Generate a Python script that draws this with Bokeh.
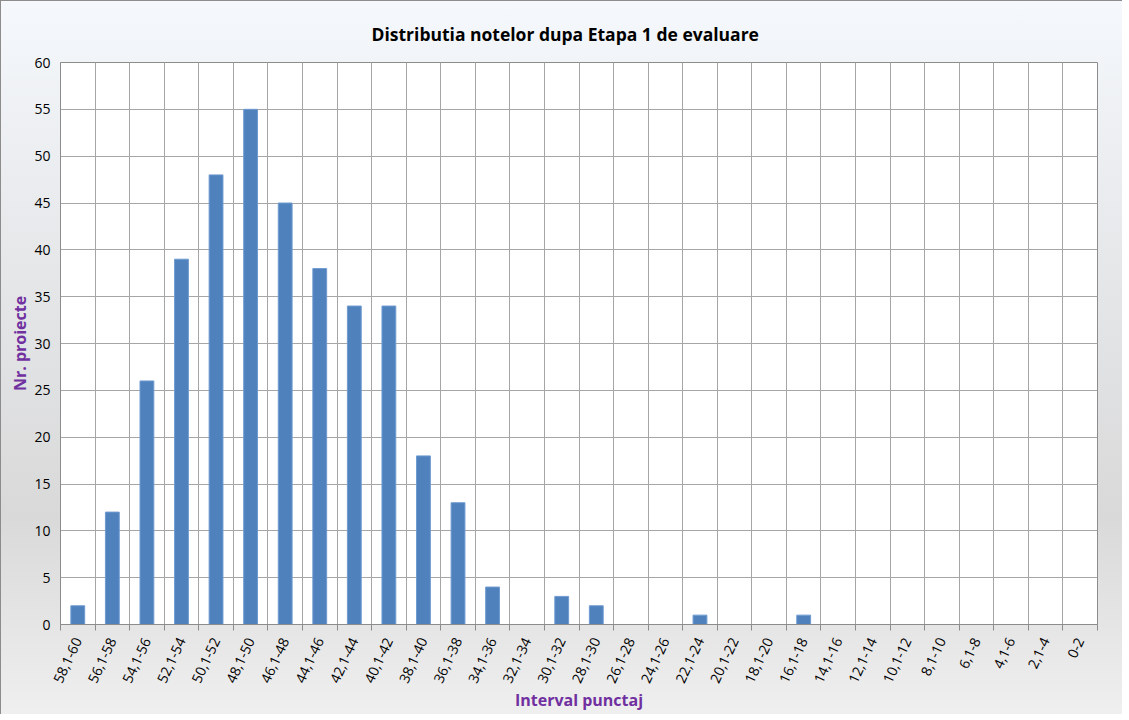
from bokeh.plotting import figure
from bokeh.models import ColumnDataSource, FixedTicker, Range1d
from bokeh.embed import file_html
from bokeh.resources import INLINE
import math

categories = ["58,1-60", "56,1-58", "54,1-56", "52,1-54", "50,1-52", "48,1-50",
              "46,1-48", "44,1-46", "42,1-44", "40,1-42", "38,1-40", "36,1-38",
              "34,1-36", "32,1-34", "30,1-32", "28,1-30", "26,1-28", "24,1-26",
              "22,1-24", "20,1-22", "18,1-20", "16,1-18", "14,1-16", "12,1-14",
              "10,1-12", "8,1-10", "6,1-8", "4,1-6", "2,1-4", "0-2"]
counts = [2, 12, 26, 39, 48, 55, 45, 38, 34, 34, 18, 13, 4, 0, 3, 2, 0, 0,
          1, 0, 0, 1, 0, 0, 0, 0, 0, 0, 0, 0]
y_ticks = list(range(0, 61, 5))

n = len(categories)
centers = [i + 0.5 for i in range(n)]
bounds = list(range(n + 1))

src = ColumnDataSource(dict(x=centers, top=counts, cat=categories))

FONT = "Open Sans"

p = figure(width=1121, height=712, frame_width=1037, frame_height=562,
           output_backend="svg", toolbar_location=None,
           x_range=Range1d(0, n), y_range=Range1d(0, 60),
           min_border_left=59, min_border_right=25, min_border_top=61,
           min_border_bottom=89,
           title="Distributia notelor dupa Etapa 1 de evaluare")

p.border_fill_alpha = 0
p.background_fill_color = "white"
p.styles = {"background": "linear-gradient(to bottom, #f5f8fc 0%, #e6e8ea 35%, #d9d9d9 72%, #efefef 100%)",
            "border-top": "1px solid #8c8c8c", "border-left": "1px solid #8c8c8c",
            "box-sizing": "border-box"}

p.title.align = "left"
p.title.offset = 311
p.title.text_font = FONT
p.title.text_font_size = "17.5px"
p.title.text_font_style = "bold"
p.title.text_color = "#000000"
p.title.standoff = 33

p.vbar(x="x", top="top", width=0.4, source=src, fill_color="#4f81bd",
       line_color="#6f9bd0", line_width=1)

# x axis
p.xaxis.ticker = FixedTicker(ticks=centers, minor_ticks=bounds)
p.xaxis.major_label_overrides = {c: lab for c, lab in zip(centers, categories)}
p.xaxis.major_label_orientation = math.radians(65)
p.xaxis.major_tick_line_color = None
p.xaxis.major_tick_out = 0
p.xaxis.minor_tick_line_color = "#8c8c8c"
p.xaxis.minor_tick_out = 6
p.xaxis.minor_tick_in = 0
p.xaxis.axis_line_color = "#8c8c8c"
p.xaxis.major_label_text_font = FONT
p.xaxis.major_label_text_font_size = "14px"
p.xaxis.major_label_text_color = "#000000"
p.xaxis.major_label_standoff = 8
p.xaxis.axis_label = "Interval punctaj"
p.xaxis.axis_label_text_font = FONT
p.xaxis.axis_label_text_font_size = "16px"
p.xaxis.axis_label_text_font_style = "bold"
p.xaxis.axis_label_text_color = "#7030a0"
p.xaxis.axis_label_standoff = 0

# y axis
p.yaxis.ticker = FixedTicker(ticks=y_ticks)
p.yaxis.major_tick_line_color = None
p.yaxis.major_tick_out = 0
p.yaxis.minor_tick_line_color = None
p.yaxis.axis_line_color = "#8c8c8c"
p.yaxis.major_label_text_font = FONT
p.yaxis.major_label_text_font_size = "14px"
p.yaxis.major_label_text_color = "#000000"
p.yaxis.major_label_standoff = 10
p.yaxis.axis_label = "Nr. proiecte"
p.yaxis.axis_label_text_font = FONT
p.yaxis.axis_label_text_font_size = "16px"
p.yaxis.axis_label_text_font_style = "bold"
p.yaxis.axis_label_text_color = "#7030a0"
p.yaxis.axis_label_standoff = 0

# grid
p.xgrid.ticker = FixedTicker(ticks=bounds)
p.xgrid.grid_line_color = "#a6a6a6"
p.ygrid.grid_line_color = "#a6a6a6"
p.outline_line_color = "#8c8c8c"

open("out.html", "w").write(file_html(p, INLINE))
